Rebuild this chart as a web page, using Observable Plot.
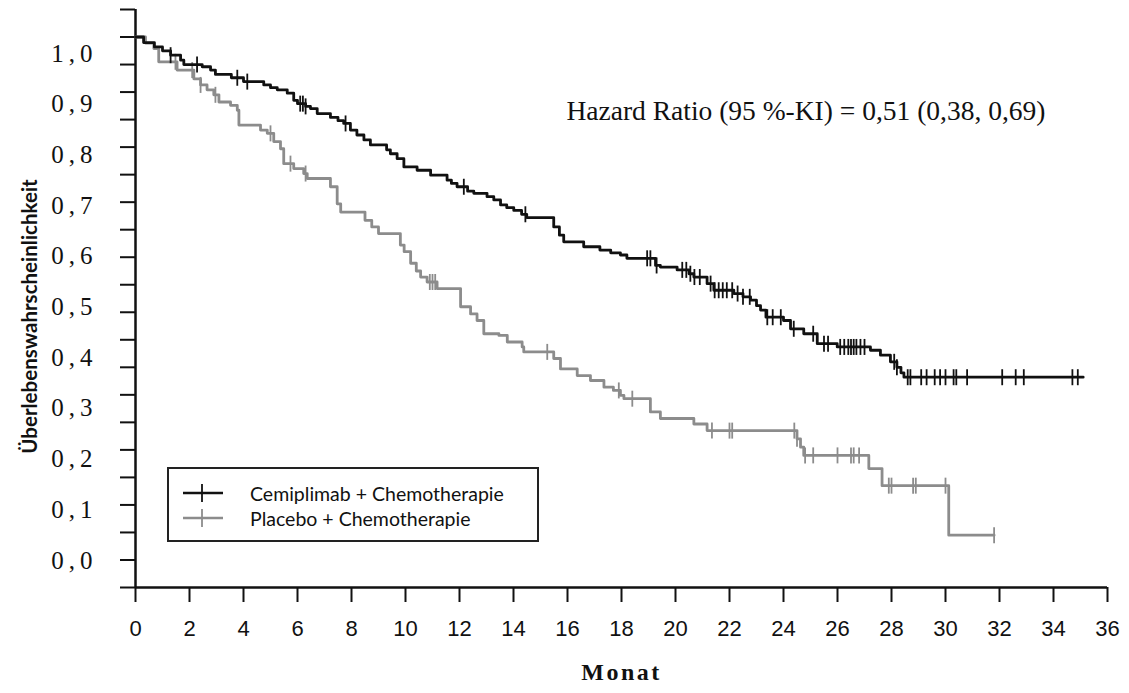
<!DOCTYPE html>
<html>
<head>
<meta charset="utf-8">
<script src="https://cdn.jsdelivr.net/npm/d3@7"></script>
<script src="https://cdn.jsdelivr.net/npm/@observablehq/plot@0.6"></script>
<style>
  html, body { margin: 0; padding: 0; background: #fff; }
  #wrap { position: relative; width: 1129px; height: 693px; overflow: hidden; }
  #wrap > svg, #wrap > div.layer { position: absolute; left: 0; top: 0; }
  #ylabels { pointer-events: none; }
  #ylabels text { letter-spacing: 5px; }
  #legend { position: absolute; left: 167px; top: 467px; width: 372px; height: 75px; border: 2px solid #222; box-sizing: border-box; font-family: Lato, "Open Sans", sans-serif; font-size: 19.5px; color: #111; }
  #legend .row { position: absolute; left: 14px; height: 24px; display: flex; align-items: center; }
  #legend .row svg { width: 42px; height: 24px; margin-right: 25px; }
</style>
</head>
<body>
<div id="wrap"></div>
<script>
// ---- Data ----
const seriesNames = ["Cemiplimab + Chemotherapie", "Placebo + Chemotherapie"];
const seriesColors = ["#111111", "#8c8c8c"];

// [month, survival probability after the step]
const cemiplimabSteps = [
  [0,1],[0.3,0.99],[0.7,0.982],[1.0,0.975],[1.3,0.967],[1.67,0.958],[1.79,0.95],[2.47,0.946],
  [2.78,0.94],[2.96,0.932],[3.55,0.926],[4.0,0.919],[4.75,0.913],[5.0,0.908],[5.25,0.904],
  [5.62,0.898],[5.86,0.885],[6.0,0.879],[6.3,0.874],[6.48,0.87],[6.73,0.861],[7.22,0.854],
  [7.5,0.848],[7.71,0.843],[7.96,0.831],[8.2,0.822],[8.46,0.813],[8.7,0.804],[9.3,0.795],
  [9.44,0.788],[9.69,0.779],[9.94,0.764],[10.43,0.758],[10.93,0.749],[11.54,0.74],[11.7,0.734],
  [11.91,0.728],[12.3,0.72],[12.53,0.716],[13.02,0.71],[13.27,0.704],[13.52,0.695],[13.75,0.69],
  [14.01,0.685],[14.3,0.678],[14.49,0.672],[15.49,0.655],[15.7,0.64],[15.86,0.628],[16.6,0.619],
  [17.2,0.613],[17.6,0.608],[17.96,0.604],[18.2,0.598],[19.26,0.585],[19.44,0.582],[20.06,0.577],
  [20.5,0.57],[20.68,0.564],[21.17,0.552],[21.42,0.54],[22.16,0.534],[22.5,0.528],[22.78,0.522],
  [23.0,0.512],[23.15,0.504],[23.35,0.491],[24.0,0.485],[24.26,0.47],[24.75,0.461],[25.25,0.443],
  [25.99,0.437],[27.22,0.431],[27.59,0.422],[27.96,0.41],[28.2,0.4],[28.35,0.39],[28.46,0.382],
  [35.1,0.382]
];
const placeboSteps = [
  [0,1],[0.37,0.989],[0.68,0.979],[0.86,0.955],[1.54,0.94],[2.16,0.924],[2.41,0.913],[2.65,0.904],
  [2.9,0.895],[3.09,0.882],[3.52,0.876],[3.77,0.867],[3.83,0.84],[4.63,0.831],[4.88,0.825],
  [5.12,0.81],[5.37,0.797],[5.49,0.77],[5.86,0.761],[6.23,0.752],[6.36,0.743],[7.22,0.728],
  [7.47,0.697],[7.6,0.682],[8.5,0.667],[8.75,0.655],[9.0,0.643],[9.81,0.622],[9.95,0.61],
  [10.19,0.589],[10.4,0.575],[10.56,0.564],[10.8,0.555],[11.17,0.543],[12.04,0.51],[12.41,0.497],
  [12.65,0.485],[12.9,0.461],[13.46,0.458],[13.77,0.446],[14.32,0.437],[14.38,0.428],[15.49,0.416],
  [15.74,0.397],[16.36,0.385],[16.85,0.376],[17.35,0.364],[17.7,0.358],[17.96,0.349],[18.09,0.343],
  [19.07,0.319],[19.44,0.307],[20.68,0.297],[21.17,0.285],[24.5,0.27],[24.63,0.255],[24.75,0.24],
  [27.16,0.216],[27.65,0.185],[30.12,0.095],[31.8,0.095]
];
// censoring times (months)
const cemiplimabCensor = [1.3,2.28,3.77,4.14,6.1,6.2,6.3,7.78,12.16,14.44,18.95,19.07,19.3,
  20.25,20.4,20.55,20.7,20.9,21.3,21.45,21.6,21.75,21.9,22.1,22.3,22.5,22.75,23.4,23.6,23.9,24.38,
  25.1,25.5,25.65,26.1,26.25,26.4,26.5,26.6,26.7,26.85,27.0,28.1,28.2,28.6,28.7,29.1,29.3,29.6,
  29.8,30.0,30.3,30.4,30.8,32.1,32.6,32.9,34.7,34.9];
const placeboCensor = [1.48,2.1,2.41,2.96,5.0,5.74,6.3,10.9,11.0,11.1,15.25,17.9,18.4,21.35,22.0,
  22.1,24.4,24.5,24.8,25.1,26.0,26.5,26.6,26.8,27.9,28.0,28.8,28.9,30.0,31.8];

const xTicks = [0,2,4,6,8,10,12,14,16,18,20,22,24,26,28,30,32,34,36];
const yTickValues = d3.range(0, 22).map(i => i * 0.05);
const yLabelValues = [0,0.1,0.2,0.3,0.4,0.5,0.6,0.7,0.8,0.9,1.0];
const yLabels = ["0,0","0,1","0,2","0,3","0,4","0,5","0,6","0,7","0,8","0,9","1,0"];
const hrText = "Hazard Ratio (95 %-KI) = 0,51 (0,38, 0,69)";
const xTitle = "Monat";
const yTitle = "Überlebenswahrscheinlichkeit";

// ---- Build tables ----
const toRows = (steps, group) => steps.map(([t, s]) => ({t, s, group}));
const survAt = (steps, t) => { let s = steps[0][1]; for (const [ti, si] of steps) { if (ti <= t + 1e-9) s = si; else break; } return s; };
const censorRows = (times, steps, group) => times.map(t => ({t, s: survAt(steps, t), group}));

const lines = [toRows(cemiplimabSteps, seriesNames[0]), toRows(placeboSteps, seriesNames[1])];
const censors = [censorRows(cemiplimabCensor, cemiplimabSteps, seriesNames[0]), censorRows(placeboCensor, placeboSteps, seriesNames[1])];

const vtick = { draw(ctx, size) { const r = Math.sqrt(size / Math.PI); ctx.moveTo(0, -r); ctx.lineTo(0, r); } };

const wrap = document.getElementById("wrap");

const main = Plot.plot({
  width: 1129, height: 693,
  marginLeft: 135, marginRight: 22, marginTop: 9, marginBottom: 106,
  x: {domain: [0, 36]},
  y: {domain: [0, 1.05]},
  style: {fontFamily: "'Liberation Sans', Arial, sans-serif", fontSize: "20px", color: "#111", background: "transparent"},
  marks: [
    Plot.axisY(yTickValues, {tickSize: 15, tickFormat: () => "", label: null, strokeWidth: 2}),
    Plot.axisX(xTicks, {tickSize: 15, tickPadding: 18, label: null, strokeWidth: 2, fontSize: 22}),
    Plot.ruleX([0], {stroke: "#111", strokeWidth: 2.5}),
    Plot.ruleY([0], {stroke: "#111", strokeWidth: 2.5}),
    Plot.line(lines[1], {x: "t", y: "s", curve: "step-after", stroke: seriesColors[1], strokeWidth: 2.8}),
    Plot.dot(censors[1], {x: "t", y: "s", symbol: vtick, r: 8, stroke: seriesColors[1], strokeWidth: 1.8, fill: "none"}),
    Plot.line(lines[0], {x: "t", y: "s", curve: "step-after", stroke: seriesColors[0], strokeWidth: 2.8}),
    Plot.dot(censors[0], {x: "t", y: "s", symbol: vtick, r: 8, stroke: seriesColors[0], strokeWidth: 1.8, fill: "none"}),
    Plot.text([hrText], {text: d => d, frameAnchor: "top-right", textAnchor: "end", dx: -62, dy: 91, fontFamily: "'Liberation Serif', 'Times New Roman', serif", fontSize: 27.5}),
    Plot.text([xTitle], {text: d => d, frameAnchor: "bottom", dy: 92, fontFamily: "'Liberation Serif', serif", fontWeight: "bold", fontSize: 24}),
    Plot.text([yTitle], {text: d => d, frameAnchor: "left", textAnchor: "middle", rotate: -90, dx: -105, dy: 18, fontFamily: "Lato, 'Open Sans', sans-serif", fontWeight: "bold", fontSize: 20.5})
  ]
});
wrap.appendChild(main);
// spaced-out title letters as in the reference
main.querySelectorAll("text").forEach(t => { if (t.textContent === xTitle) t.style.letterSpacing = "2.5px"; });

// overlay carrying the printed y labels (placed as in the reference, on their own scale)
const labelsPlot = Plot.plot({
  width: 1129, height: 693,
  marginLeft: 100, marginRight: 22, marginTop: 53, marginBottom: 133,
  y: {domain: [0, 1]},
  style: {fontFamily: "'Liberation Serif', 'Times New Roman', serif", fontSize: "25px", color: "#111", background: "transparent"},
  marks: [
    Plot.axisY(yLabelValues, {tickSize: 0, tickPadding: 3, label: null, fontSize: 25,
      tickFormat: d => yLabels[yLabelValues.indexOf(d)]})
  ]
});
labelsPlot.id = "ylabels";
wrap.appendChild(labelsPlot);

// legend inside the plot area
const legend = document.createElement("div");
legend.id = "legend";
seriesNames.forEach((name, i) => {
  const row = document.createElement("div");
  row.className = "row";
  row.style.top = (i === 0 ? 12 : 37) + "px";
  row.innerHTML = `<svg viewBox="0 0 42 24"><line x1="0" x2="40" y1="12" y2="12" stroke="${seriesColors[i]}" stroke-width="2.6"/><line x1="19" x2="19" y1="3" y2="21" stroke="${seriesColors[i]}" stroke-width="1.8"/></svg><span>${name}</span>`;
  legend.appendChild(row);
});
wrap.appendChild(legend);
</script>
</body>
</html>
